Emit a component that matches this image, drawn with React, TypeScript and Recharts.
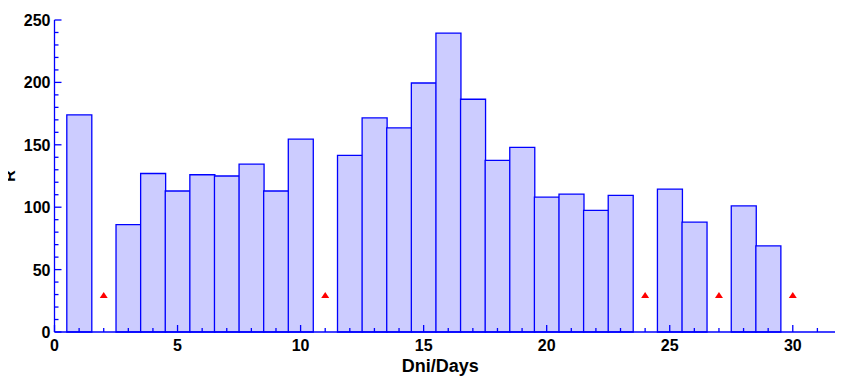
import React from 'react';
import { ComposedChart, Bar, Scatter, XAxis, YAxis, Label } from 'recharts';

// daily R values, null = no data for that day
const days = [1, 2, 3, 4, 5, 6, 7, 8, 9, 10, 11, 12, 13, 14, 15, 16, 17, 18, 19, 20, 21, 22, 23, 24, 25, 26, 27, 28, 29, 30];
const rValues = [174, null, 86, 127, 113, 126, 125, 134.5, 113, 154.5, null, 141.5, 171.5, 163.5, 199.5, 239.5, 186.5, 137.5, 148, 108, 110.5, 97.5, 109.5, null, 114.5, 88, null, 101, 69, null];

// days flagged with a marker
const markDays = [2, 11, 24, 27, 30];
const markValue = 30;

const xTicks = [0, 1, 2, 3, 4, 5, 6, 7, 8, 9, 10, 11, 12, 13, 14, 15, 16, 17, 18, 19, 20, 21, 22, 23, 24, 25, 26, 27, 28, 29, 30, 31, 32];
const yTicks = [0, 10, 20, 30, 40, 50, 60, 70, 80, 90, 100, 110, 120, 130, 140, 150, 160, 170, 180, 190, 200, 210, 220, 230, 240, 250];

const BLUE = '#0000ff';
const FONT = '"Liberation Sans", Arial, sans-serif';

const barData = days.map((d, i) => ({ day: d, r: rValues[i] }));
const markData = markDays.map((d) => ({ day: d, mark: markValue }));

const tickLen = (v: number, step: number) => (v % step === 0 ? 7 : 4);

const BottomTick = (props: any) => {
    const { x, y, payload } = props;
    const v = payload.value;
    return (
        <g>
            <line x1={x} x2={x} y1={y} y2={y - tickLen(v, 5)} stroke={BLUE} strokeWidth={1.3} />
            {v % 5 === 0 && (
                <text x={x} y={y + 19} textAnchor="middle" fontFamily={FONT} fontWeight="bold" fontSize={16} fill="#000">
                    {v}
                </text>
            )}
        </g>
    );
};

const TopTick = (props: any) => {
    const { x, y, payload } = props;
    return <line x1={x} x2={x} y1={y} y2={y + tickLen(payload.value, 5)} stroke={BLUE} strokeWidth={1.3} />;
};

const LeftTick = (props: any) => {
    const { x, y, payload } = props;
    const v = payload.value;
    return (
        <g>
            <line x1={x} x2={x + tickLen(v, 50)} y1={y} y2={y} stroke={BLUE} strokeWidth={1.3} />
            {v % 50 === 0 && (
                <text x={x - 4} y={y + 6} textAnchor="end" fontFamily={FONT} fontWeight="bold" fontSize={16} fill="#000">
                    {v}
                </text>
            )}
        </g>
    );
};

const RightTick = (props: any) => {
    const { x, y, payload } = props;
    return <line x1={x} x2={x - tickLen(payload.value, 50)} y1={y} y2={y} stroke={BLUE} strokeWidth={1.3} />;
};

const Triangle = (props: any) => {
    const { cx, cy } = props;
    return <polygon points={`${cx},${cy - 2.5} ${cx - 4},${cy + 3.5} ${cx + 4},${cy + 3.5}`} fill="#ff0000" />;
};

const YLabel = (props: any) => {
    const vb = props.viewBox;
    const cx = 15;
    const cy = vb.y + vb.height / 2;
    return (
        <text x={cx} y={cy} transform={`rotate(-90, ${cx}, ${cy})`} textAnchor="middle"
            fontFamily={FONT} fontWeight="bold" fontSize={16} fill="#000">
            R
        </text>
    );
};

const XLabel = (props: any) => {
    const vb = props.viewBox;
    return (
        <text x={vb.x + vb.width / 2 - 8} y={372} textAnchor="middle"
            fontFamily={FONT} fontWeight="bold" fontSize={18} fill="#000">
            Dni/Days
        </text>
    );
};

export default function App() {
    return (
        <div style={{ marginLeft: -8, marginTop: -8, width: 843, height: 377 }}>
            <ComposedChart
                width={843}
                height={377}
                data={barData}
                barCategoryGap={0}
                barGap={0}
                margin={{ top: 20, right: 1, left: 0, bottom: 0 }}
            >
                <XAxis
                    xAxisId="b"
                    dataKey="day"
                    type="number"
                    domain={[0, 32]}
                    ticks={xTicks}
                    interval={0}
                    tickSize={0}
                    tickMargin={0}
                    tick={<BottomTick />}
                    axisLine={{ stroke: BLUE, strokeWidth: 1.3 }}
                    height={45}
                >
                    <Label content={<XLabel />} />
                </XAxis>
                <XAxis
                    xAxisId="t"
                    orientation="top"
                    dataKey="day"
                    type="number"
                    domain={[0, 32]}
                    ticks={xTicks}
                    interval={0}
                    tickSize={0}
                    tickMargin={0}
                    tick={<TopTick />}
                    axisLine={{ stroke: BLUE, strokeWidth: 1.3 }}
                    height={0}
                />
                <YAxis
                    yAxisId="l"
                    type="number"
                    domain={[0, 250]}
                    ticks={yTicks}
                    interval={0}
                    tickSize={0}
                    tickMargin={0}
                    tick={<LeftTick />}
                    axisLine={{ stroke: BLUE, strokeWidth: 1.3 }}
                    width={54.5}
                >
                    <Label content={<YLabel />} />
                </YAxis>
                <YAxis
                    yAxisId="r"
                    orientation="right"
                    type="number"
                    domain={[0, 250]}
                    ticks={yTicks}
                    interval={0}
                    tickSize={0}
                    tickMargin={0}
                    tick={<RightTick />}
                    axisLine={{ stroke: BLUE, strokeWidth: 1.3 }}
                    width={0}
                />
                <Bar
                    xAxisId="b"
                    yAxisId="l"
                    dataKey="r"
                    fill="#ccccff"
                    stroke={BLUE}
                    strokeWidth={1.3}
                    isAnimationActive={false}
                />
                <Scatter
                    xAxisId="b"
                    yAxisId="l"
                    data={markData}
                    dataKey="mark"
                    shape={<Triangle />}
                    isAnimationActive={false}
                />
            </ComposedChart>
        </div>
    );
}
